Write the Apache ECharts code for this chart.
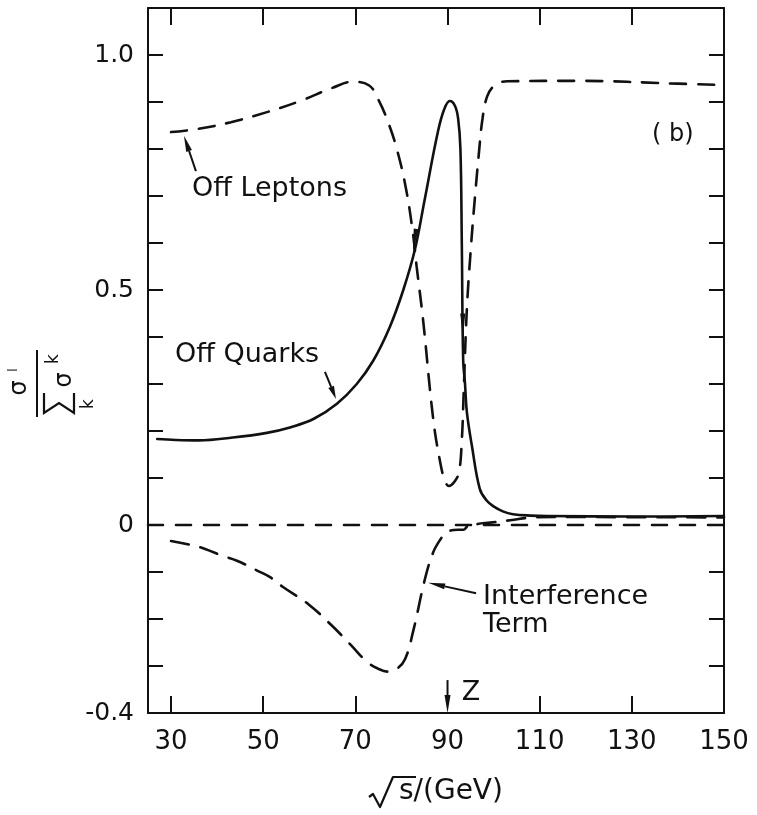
<!DOCTYPE html>
<html>
<head>
<meta charset="utf-8">
<script src="https://cdn.jsdelivr.net/npm/echarts@6/dist/echarts.min.js"></script>
<style>
  html, body { margin: 0; padding: 0; background: #ffffff; }
  #chart { width: 757px; height: 815px; }
</style>
</head>
<body>
<div id="chart"></div>
<script>
// Fraction of the cross section sigma^l / sum_k sigma^k versus sqrt(s) in GeV.

// Off-resonance leptons (dashed)
const leptonE    = [30, 36, 43, 51, 58, 65, 69.5, 73, 75, 77, 79, 81, 82.5, 83.3, 84.7, 86.9, 88.4, 89.4, 90.3, 91.5, 92.5, 93.1, 93.5, 94.2, 95, 95.8, 96.8, 97.6, 98.6, 100, 101.5, 103, 118, 140, 150];
const leptonFrac = [0.836, 0.843, 0.857, 0.879, 0.902, 0.930, 0.943, 0.935, 0.905, 0.860, 0.800, 0.715, 0.620, 0.550, 0.436, 0.225, 0.134, 0.095, 0.083, 0.092, 0.113, 0.180, 0.280, 0.460, 0.580, 0.680, 0.790, 0.865, 0.912, 0.934, 0.942, 0.944, 0.945, 0.939, 0.936];

// Off-resonance quarks (solid)
const quarkE    = [27, 31, 36, 43.4, 50.8, 56, 61, 66, 70.3, 73.9, 77.5, 80.4, 82.9, 85, 87.9, 89.3, 90.5, 91.6, 92.3, 92.8, 93.1, 93.4, 93.8, 94.2, 95.3, 97, 98.5, 99.9, 102, 104.2, 108, 112, 130, 150];
const quarkFrac = [0.183, 0.181, 0.180, 0.186, 0.196, 0.208, 0.226, 0.258, 0.300, 0.350, 0.422, 0.500, 0.585, 0.690, 0.836, 0.885, 0.902, 0.892, 0.865, 0.800, 0.600, 0.350, 0.300, 0.240, 0.168, 0.077, 0.052, 0.040, 0.029, 0.023, 0.020, 0.019, 0.018, 0.019];

// Interference term (dashed)
const interfE    = [30, 35, 37.4, 41.3, 44.3, 48.7, 51.5, 54.3, 60, 65, 69, 72.5, 75, 77, 79, 80.8, 82.5, 85.1, 86.9, 88.5, 89.9, 92.3, 93.5, 94.5, 95.5, 96.5, 99.2, 103.6, 108.5, 115, 150];
const interfFrac = [-0.034, -0.044, -0.051, -0.066, -0.076, -0.097, -0.111, -0.132, -0.170, -0.215, -0.255, -0.291, -0.306, -0.312, -0.306, -0.285, -0.228, -0.115, -0.058, -0.030, -0.015, -0.010, -0.010, -0.002, -0.005, 0.002, 0.005, 0.010, 0.016, 0.017, 0.016];

// Zero reference line (dashed)
const zeroE   = [25, 150];
const zeroVal = [0, 0];

// Axis ticks and labels
const xLabelValues = [30, 50, 70, 90, 110, 130, 150];
const xBottomTicks = [30, 50, 70, 110, 130];
const xTopTicks    = [30, 50, 70, 90, 110, 130];
const yLabelValues = [-0.4, 0, 0.5, 1.0];

const INK = '#111111';
const FONT = 'DejaVu Sans';
const pairs = (xs, ys) => xs.map((x, i) => [x, ys[i]]);

const chart = echarts.init(document.getElementById('chart'), null, { renderer: 'canvas' });

const axisLine = { show: true, onZero: false, lineStyle: { color: INK, width: 2 } };
const tickStyle = { color: INK, width: 2 };

chart.setOption({
  animation: false,
  backgroundColor: '#ffffff',
  grid: { left: 148, top: 8, width: 576, height: 705 },
  xAxis: [
    {
      type: 'value', min: 25, max: 150, position: 'bottom',
      axisLine,
      axisTick: { show: true, inside: true, length: 17, customValues: xBottomTicks, lineStyle: tickStyle },
      axisLabel: {
        show: true, customValues: xLabelValues, margin: 16,
        color: INK, fontFamily: FONT, fontSize: 26
      },
      splitLine: { show: false }
    },
    {
      type: 'value', min: 25, max: 150, position: 'top',
      axisLine,
      axisTick: { show: true, inside: true, length: 17, customValues: xTopTicks, lineStyle: tickStyle },
      axisLabel: { show: false },
      splitLine: { show: false }
    }
  ],
  yAxis: [
    {
      type: 'value', min: -0.4, max: 1.1, interval: 0.1, position: 'left',
      axisLine,
      axisTick: { show: true, inside: true, length: 15, lineStyle: tickStyle },
      axisLabel: {
        show: true, customValues: yLabelValues, margin: 14,
        color: INK, fontFamily: FONT, fontSize: 25,
        formatter: v => (Math.abs(v) < 1e-9 ? '0' : v.toFixed(1))
      },
      splitLine: { show: false }
    },
    {
      type: 'value', min: -0.4, max: 1.1, interval: 0.1, position: 'right',
      axisLine,
      axisTick: { show: true, inside: true, length: 15, lineStyle: tickStyle },
      axisLabel: { show: false },
      splitLine: { show: false }
    }
  ],
  series: [
    {
      name: 'Off Leptons', type: 'line', data: pairs(leptonE, leptonFrac),
      showSymbol: false, smooth: 0.4,
      lineStyle: { color: INK, width: 2.6, type: [16, 12], cap: 'round' }
    },
    {
      name: 'Off Quarks', type: 'line', data: pairs(quarkE, quarkFrac),
      showSymbol: false, smooth: 0.4,
      lineStyle: { color: INK, width: 2.6, type: 'solid', cap: 'round', join: 'round' }
    },
    {
      name: 'Interference Term', type: 'line', data: pairs(interfE, interfFrac),
      showSymbol: false, smooth: 0.4,
      lineStyle: { color: INK, width: 2.6, type: [18, 12], cap: 'round' }
    },
    {
      name: 'Zero', type: 'line', data: pairs(zeroE, zeroVal),
      showSymbol: false,
      lineStyle: { color: INK, width: 2.6, type: [15, 13], cap: 'round' }
    }
  ]
});

// ---- annotations: labels, pointer arrows and axis titles ----
const toPx = p => chart.convertToPixel({ gridIndex: 0 }, p);

function label(text, at, size, align) {
  const p = toPx(at);
  return {
    type: 'text', x: p[0], y: p[1], z: 100,
    style: { text, fill: INK, fontFamily: FONT, fontSize: size, align: align || 'left', verticalAlign: 'middle' }
  };
}

function head(baseData, tipData, halfWidth) {
  const base = toPx(baseData), tip = toPx(tipData);
  const dx = tip[0] - base[0], dy = tip[1] - base[1];
  const L = Math.hypot(dx, dy), ux = dx / L, uy = dy / L;
  return {
    type: 'polygon', z: 100,
    shape: { points: [tip, [base[0] - uy * halfWidth, base[1] + ux * halfWidth], [base[0] + uy * halfWidth, base[1] - ux * halfWidth]] },
    style: { fill: INK }
  };
}

function arrow(tailData, tipData, headLen, headHalf) {
  const tail = toPx(tailData), tip = toPx(tipData);
  const dx = tip[0] - tail[0], dy = tip[1] - tail[1];
  const L = Math.hypot(dx, dy), ux = dx / L, uy = dy / L;
  const bx = tip[0] - ux * headLen, by = tip[1] - uy * headLen;
  return [
    { type: 'line', z: 100, shape: { x1: tail[0], y1: tail[1], x2: bx, y2: by }, style: { stroke: INK, lineWidth: 2 } },
    { type: 'polygon', z: 100,
      shape: { points: [tip, [bx - uy * headHalf, by + ux * headHalf], [bx + uy * headHalf, by - ux * headHalf]] },
      style: { fill: INK } }
  ];
}

const graphics = [
  label('Off Leptons', [34.55, 0.715], 27),
  ...arrow([35.4, 0.753], [32.8, 0.828], 16, 3),
  label('Off Quarks', [30.86, 0.362], 27),
  ...arrow([63.4, 0.326], [65.8, 0.268], 13, 3),
  label('Interference', [97.7, -0.153], 27),
  label('Term', [97.7, -0.213], 27),
  ...arrow([96.2, -0.145], [85.8, -0.123], 17, 3),
  label('( b)', [138.9, 0.83], 24, 'center'),
  ...arrow([90, -0.33], [90, -0.4], 18, 3),
  label('Z', [93.1, -0.357], 27),

  // small direction marks drawn on the quark curve
  head([83.2, 0.630], [82.5, 0.580], 2.5),
  head([93.3, 0.450], [93.35, 0.400], 2.5),

  // x-axis title: radical sign over s, then "/(GeV)"
  { type: 'polyline', z: 100,
    shape: { points: [[369, 797], [373, 794], [380, 807], [393, 777], [416, 777]] },
    style: { stroke: INK, lineWidth: 2.2, fill: null, lineJoin: 'round' } },
  { type: 'text', x: 399, y: 792, z: 100,
    style: { text: 's/(GeV)', fill: INK, fontFamily: FONT, fontSize: 28, align: 'left', verticalAlign: 'middle' } },

  // y-axis title: sigma^l / sum_k sigma^k, read bottom to top
  { type: 'group', x: 37, y: 383, rotation: Math.PI / 2, z: 100, children: [
    { type: 'line', shape: { x1: -34, y1: 0, x2: 33, y2: 0 }, style: { stroke: INK, lineWidth: 2 } },
    { type: 'text', x: -5, y: -17, style: { text: 'σ', fill: INK, fontFamily: FONT, fontSize: 24, align: 'center', verticalAlign: 'middle' } },
    { type: 'text', x: 13, y: -23, style: { text: 'l', fill: INK, fontFamily: FONT, fontSize: 12, align: 'center', verticalAlign: 'middle' } },
    { type: 'polyline', shape: { points: [[-10, 7], [-30, 7], [-20, 22], [-30, 37], [-10, 37]] },
      style: { stroke: INK, lineWidth: 2.2, fill: null } },
    { type: 'text', x: -21, y: 52, style: { text: 'k', fill: INK, fontFamily: FONT, fontSize: 17, align: 'center', verticalAlign: 'middle' } },
    { type: 'text', x: 3, y: 28, style: { text: 'σ', fill: INK, fontFamily: FONT, fontSize: 24, align: 'center', verticalAlign: 'middle' } },
    { type: 'text', x: 24, y: 17, style: { text: 'k', fill: INK, fontFamily: FONT, fontSize: 17, align: 'center', verticalAlign: 'middle' } }
  ] }
];

chart.setOption({ graphic: graphics });
</script>
</body>
</html>
